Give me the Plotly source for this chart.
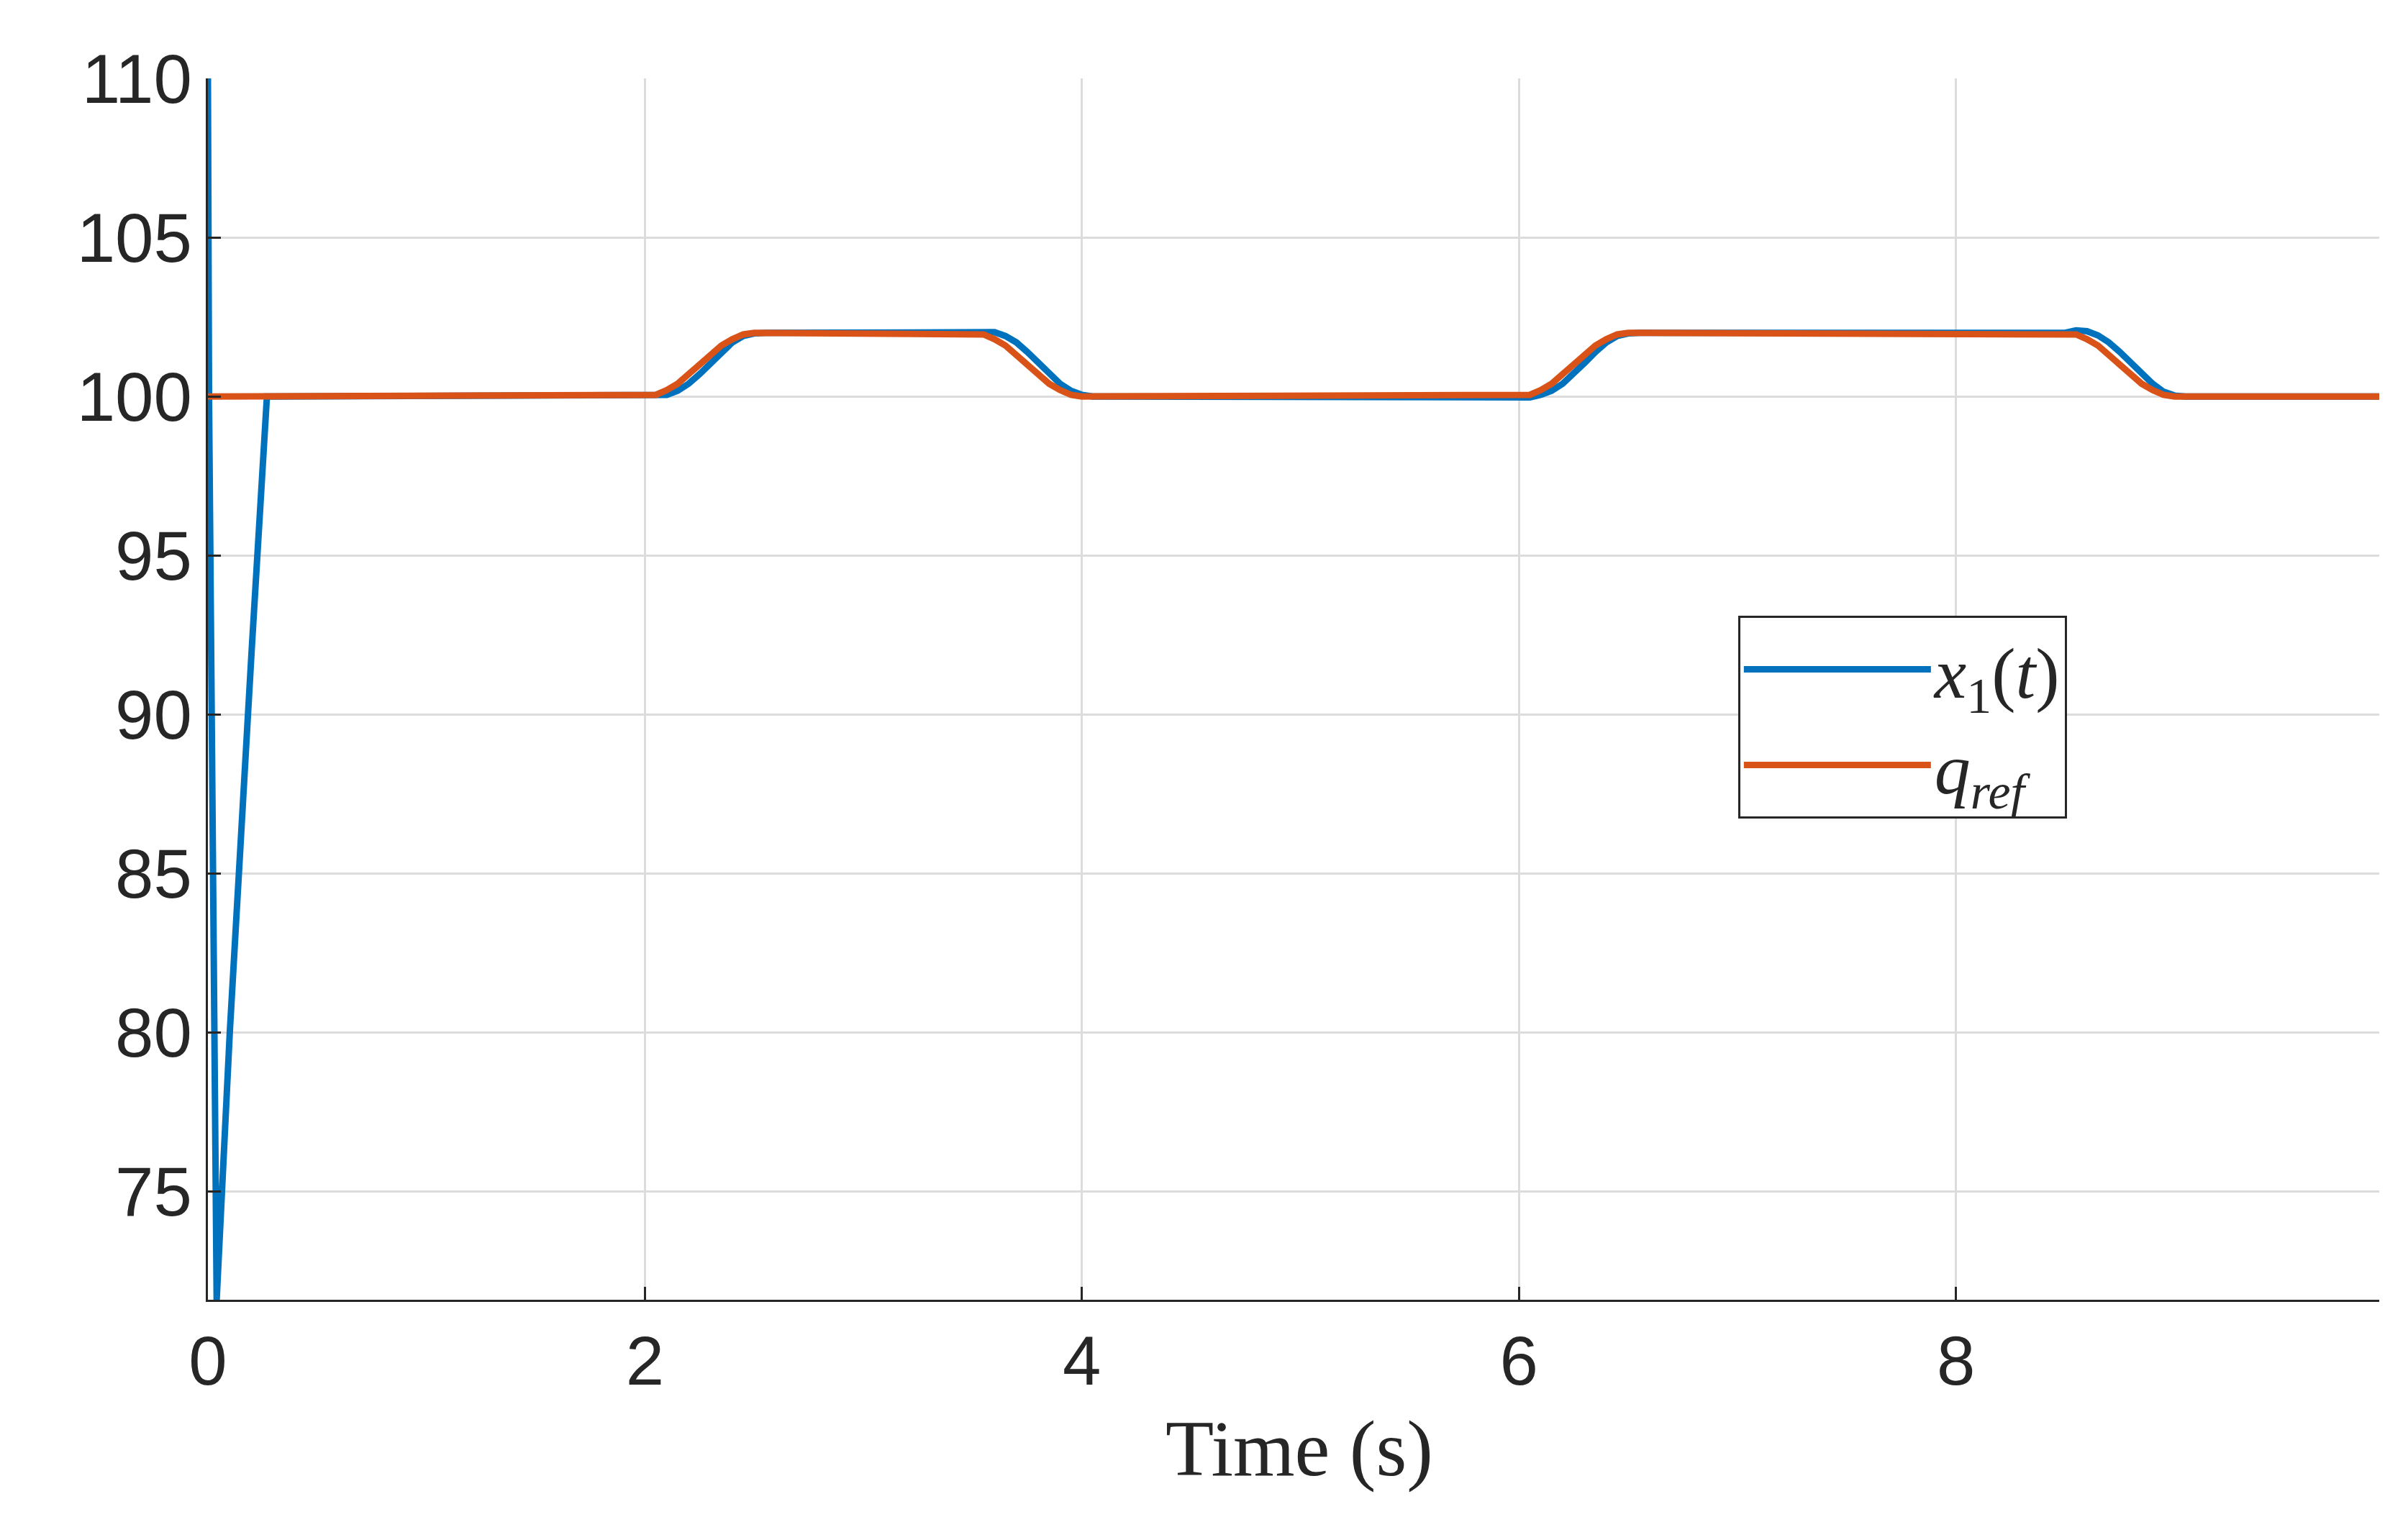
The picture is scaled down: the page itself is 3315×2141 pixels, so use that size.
import plotly.graph_objects as go

t_x = [0, 0.005, 0.04, 0.1, 0.2, 0.27, 0.3, 2.0, 2.05, 2.1, 2.15, 2.2, 2.25, 2.3, 2.35, 2.4, 2.45, 2.5, 2.55, 3.5, 3.55, 3.6, 3.65, 3.7, 3.75, 3.8, 3.85, 3.9, 3.95, 4.0, 4.05,
       6.0, 6.05, 6.1, 6.15, 6.2, 6.25, 6.3, 6.35, 6.4, 6.45, 6.5, 6.55, 8.5, 8.55, 8.6, 8.65, 8.7, 8.75, 8.8, 8.85, 8.9, 8.95, 9.0, 9.05, 10.0]
x1 = [110, 100, 71.6, 80, 92, 100, 100, 100, 100.0, 100.05, 100.18, 100.4, 100.7, 101.05, 101.4, 101.7, 101.9, 101.98, 102, 102, 102.05, 102.02, 101.9, 101.7, 101.4, 101.05, 100.7, 100.4, 100.18, 100.05, 100,
      100, 99.97, 100.05, 100.18, 100.4, 100.7, 101.05, 101.4, 101.7, 101.9, 101.98, 102, 102, 102.08, 102.05, 101.92, 101.7, 101.4, 101.05, 100.7, 100.4, 100.15, 100.03, 100, 100]
t_q = [0, 2.0, 2.05, 2.1, 2.15, 2.2, 2.25, 2.3, 2.35, 2.4, 2.45, 2.5, 3.5, 3.55, 3.6, 3.65, 3.7, 3.75, 3.8, 3.85, 3.9, 3.95, 4.0,
       6.0, 6.05, 6.1, 6.15, 6.2, 6.25, 6.3, 6.35, 6.4, 6.45, 6.5, 8.5, 8.55, 8.6, 8.65, 8.7, 8.75, 8.8, 8.85, 8.9, 8.95, 9.0, 10.0]
q_ref = [100, 100, 100.05, 100.2, 100.4, 100.7, 101.0, 101.3, 101.6, 101.8, 101.95, 102, 102, 101.95, 101.8, 101.6, 101.3, 101.0, 100.7, 100.4, 100.2, 100.05, 100,
         100, 100.05, 100.2, 100.4, 100.7, 101.0, 101.3, 101.6, 101.8, 101.95, 102, 102, 101.95, 101.8, 101.6, 101.3, 101.0, 100.7, 100.4, 100.2, 100.05, 100, 100]

fig = go.Figure()
fig.add_trace(go.Scatter(x=t_x, y=x1, mode="lines", line=dict(color="#0072BD", width=9),
                         name="<i>x</i><sub>1</sub>(<i>t</i>)"))
fig.add_trace(go.Scatter(x=t_q, y=q_ref, mode="lines", line=dict(color="#D95319", width=9),
                         name="<i>q</i><sub><i>ref</i></sub>"))
ax = dict(showline=True, linecolor="#262626", linewidth=3, mirror=False, showgrid=True, gridcolor="#dcdcdc", gridwidth=3,
          ticks="inside", ticklen=18, tickwidth=3, tickcolor="#262626", zeroline=False,
          tickfont=dict(family="Liberation Sans, Arial", size=96, color="#262626"))
fig.update_layout(
    width=3315, height=2141, paper_bgcolor="white", plot_bgcolor="white",
    margin=dict(l=281, r=0, t=101, b=342),
    xaxis=dict(ax, range=[0, 9.99], tickvals=[0, 2, 4, 6, 8],
               title=dict(text="Time (s)", font=dict(family="Liberation Serif, DejaVu Serif", size=110, color="#262626"), standoff=30)),
    yaxis=dict(ax, range=[71.6, 110], tickvals=[75, 80, 85, 90, 95, 100, 105, 110]),
    legend=dict(x=0.701, y=0.56, xanchor="left", yanchor="top", bgcolor="white", bordercolor="#262626", borderwidth=3,
                font=dict(family="Liberation Serif, DejaVu Serif", size=100, color="#262626"), itemwidth=260, tracegroupgap=10),
)
fig.write_html("out.html")
